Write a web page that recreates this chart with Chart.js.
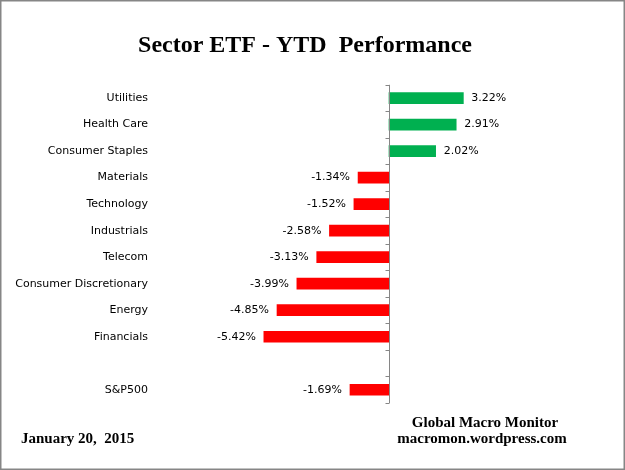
<!DOCTYPE html>
<html>
<head>
<meta charset="utf-8">
<script src="https://cdn.jsdelivr.net/npm/chart.js@4.4.1/dist/chart.umd.min.js"></script>
<style>
    html, body { margin: 0; padding: 0; background: #fff; }
    #wrap { width: 625px; height: 470px; position: relative; }
</style>
</head>
<body>
<div id="wrap"><canvas id="sector"></canvas></div>
<script>
const sectors = ['Utilities', 'Health Care', 'Consumer Staples', 'Materials', 'Technology', 'Industrials',
    'Telecom', 'Consumer Discretionary', 'Energy', 'Financials', '', 'S&P500'];
const ytdReturns = [3.22, 2.91, 2.02, -1.34, -1.52, -2.58, -3.13, -3.99, -4.85, -5.42, null, -1.69];
const chartTitle = 'Sector ETF - YTD  Performance';
const dateNote = 'January 20,  2015';
const sourceNotes = ['Global Macro Monitor', 'macromon.wordpress.com'];

const labelFont = '11px "DejaVu Sans"';

// zero axis line with small ticks between categories
const zeroAxis = {
    id: 'zeroAxis',
    afterDatasetsDraw(chart) {
        const { ctx, chartArea, scales } = chart;
        const x0 = Math.round(scales.x.getPixelForValue(0)) + 0.5;
        const step = scales.y.getPixelForValue(1) - scales.y.getPixelForValue(0);
        ctx.save();
        ctx.strokeStyle = '#868686';
        ctx.lineWidth = 1;
        ctx.beginPath();
        ctx.moveTo(x0, chartArea.top);
        ctx.lineTo(x0, chartArea.bottom);
        for (let i = 0; i <= sectors.length; i++) {
            const y = Math.round(scales.y.getPixelForValue(i) - step / 2) + 0.5;
            ctx.moveTo(x0 - 4, y);
            ctx.lineTo(x0, y);
        }
        ctx.stroke();
        ctx.restore();
    }
};

const valueLabels = {
    id: 'valueLabels',
    afterDatasetsDraw(chart) {
        const { ctx } = chart;
        const meta = chart.getDatasetMeta(0);
        ctx.save();
        ctx.font = labelFont;
        ctx.fillStyle = '#000';
        ctx.textBaseline = 'middle';
        meta.data.forEach((bar, i) => {
            const v = ytdReturns[i];
            if (v === null) return;
            const txt = v.toFixed(2) + '%';
            if (v >= 0) {
                ctx.textAlign = 'left';
                ctx.fillText(txt, bar.x + 8, bar.y);
            } else {
                ctx.textAlign = 'right';
                ctx.fillText(txt, bar.x - 8, bar.y);
            }
        });
        ctx.restore();
    }
};

const frameAndNotes = {
    id: 'frameAndNotes',
    afterDraw(chart) {
        const { ctx } = chart;
        ctx.save();
        ctx.strokeStyle = '#868686';
        ctx.lineWidth = 1.5;
        ctx.strokeRect(0.75, 0.75, 623.5, 468.5);
        ctx.fillStyle = '#000';
        ctx.font = 'bold 15px "Liberation Serif"';
        ctx.textBaseline = 'middle';
        ctx.textAlign = 'left';
        ctx.fillText(dateNote, 21, 439);
        ctx.textAlign = 'center';
        ctx.fillText(sourceNotes[0], 485, 423);
        ctx.fillText(sourceNotes[1], 482, 439);
        ctx.restore();
    }
};

new Chart(document.getElementById('sector'), {
    type: 'bar',
    data: {
        labels: sectors,
        datasets: [
            {
                data: ytdReturns,
                backgroundColor: ytdReturns.map(v => v >= 0 ? '#00B050' : '#FF0000'),
                barThickness: 11
            }
        ]
    },
    options: {
        indexAxis: 'y',
        responsive: true,
        maintainAspectRatio: false,
        animation: false,
        layout: {
            padding: { top: 0, left: 0, right: 15, bottom: 67 }
        },
        scales: {
            x: {
                display: false,
                min: -10.35,
                max: 9.57
            },
            y: {
                grid: { display: false, drawTicks: false },
                border: { display: false },
                ticks: {
                    padding: 2,
                    color: '#000',
                    font: { family: 'DejaVu Sans', size: 11 }
                },
                afterFit(scale) {
                    scale.width = 150;
                }
            }
        },
        plugins: {
            legend: { display: false },
            tooltip: { enabled: false },
            title: {
                display: true,
                text: chartTitle,
                color: '#000',
                font: { family: 'Liberation Serif', size: 24, weight: 'bold' },
                padding: { top: 31, bottom: 25 }
            }
        }
    },
    plugins: [zeroAxis, valueLabels, frameAndNotes]
});
</script>
</body>
</html>
